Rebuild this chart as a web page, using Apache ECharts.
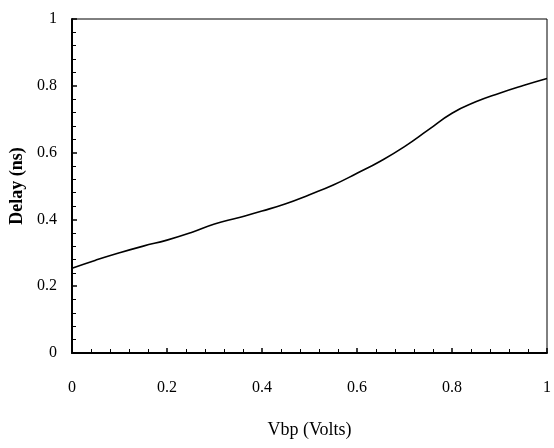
<!DOCTYPE html>
<html>
<head>
<meta charset="utf-8">
<script src="https://cdn.jsdelivr.net/npm/echarts@6/dist/echarts.min.js"></script>
<style>
html,body{margin:0;padding:0;background:#fff;}
#c{width:554px;height:448px;}
</style>
</head>
<body>
<div id="c"></div>
<script>
const vbp = [0, 0.05, 0.1, 0.15, 0.2, 0.25, 0.3, 0.35, 0.4, 0.45, 0.5, 0.55, 0.6, 0.65, 0.7, 0.75, 0.8, 0.85, 0.9, 0.95, 1.0];
const delay = [0.254, 0.278, 0.300, 0.320, 0.338, 0.360, 0.386, 0.405, 0.425, 0.447, 0.474, 0.503, 0.538, 0.575, 0.618, 0.668, 0.718, 0.752, 0.778, 0.801, 0.822];
const xTicks = [0, 0.2, 0.4, 0.6, 0.8, 1];
const yTicks = [0, 0.2, 0.4, 0.6, 0.8, 1];

const chart = echarts.init(document.getElementById('c'));
const font = '"Liberation Serif", "Times New Roman", serif';
chart.setOption({
  animation: false,
  grid: { left: 72, top: 19, right: 3, bottom: 95, show: true, borderColor: '#000', borderWidth: 1 },
  xAxis: {
    type: 'value', min: xTicks[0], max: xTicks[xTicks.length - 1], interval: 0.2,
    name: 'Vbp (Volts)', nameLocation: 'middle', nameGap: 68,
    nameTextStyle: { fontFamily: font, fontSize: 18, color: '#000' },
    axisLine: { show: true, lineStyle: { color: '#000', width: 2 } },
    axisTick: { show: true, inside: true, length: 5, lineStyle: { color: '#000', width: 1.5 } },
    minorTick: { show: true, splitNumber: 5, length: 4, lineStyle: { color: '#000', width: 1 } },
    splitLine: { show: false },
    axisLabel: { fontFamily: font, fontSize: 16, color: '#000', margin: 27, formatter: v => String(+v.toFixed(1)) }
  },
  yAxis: {
    type: 'value', min: yTicks[0], max: yTicks[yTicks.length - 1], interval: 0.2,
    name: 'Delay (ns)', nameLocation: 'middle', nameGap: 45,
    nameTextStyle: { fontFamily: font, fontSize: 18, fontWeight: 'bold', color: '#000' },
    axisLine: { show: true, lineStyle: { color: '#000', width: 2 } },
    axisTick: { show: true, inside: true, length: 5, lineStyle: { color: '#000', width: 1.5 } },
    minorTick: { show: true, splitNumber: 5, length: 4, lineStyle: { color: '#000', width: 1 } },
    splitLine: { show: false },
    axisLabel: { fontFamily: font, fontSize: 16, color: '#000', margin: 15, formatter: v => String(+v.toFixed(1)) }
  },
  series: [{
    type: 'line',
    data: vbp.map((x, i) => [x, delay[i]]),
    smooth: true,
    symbol: 'none',
    lineStyle: { color: '#000', width: 1.6 }
  }]
});
</script>
</body>
</html>
